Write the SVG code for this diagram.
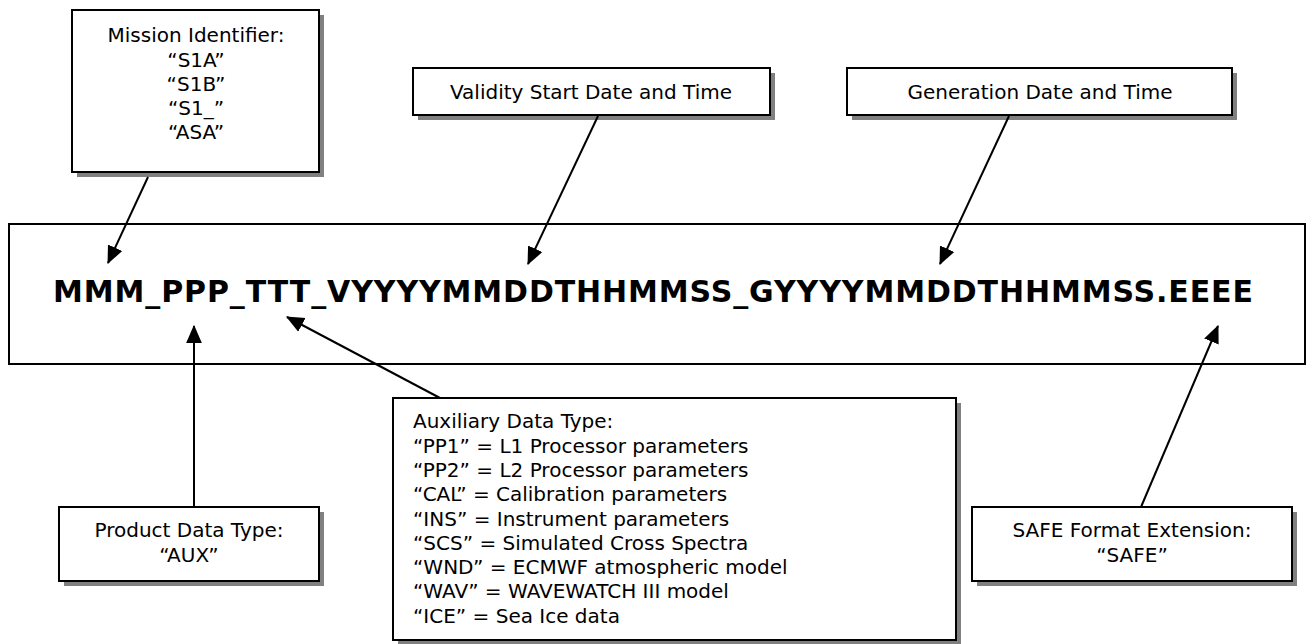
<svg xmlns="http://www.w3.org/2000/svg" width="1307" height="644" viewBox="0 0 1307 644">
<style>
  .box { fill: #ffffff; stroke: #000000; stroke-width: 2; }
  .shadow { fill: #808080; }
  .lbl { font-family: "DejaVu Sans", Verdana, sans-serif; font-size: 20px; fill: #000000; }
  .c { text-anchor: middle; }
  .title { font-family: "DejaVu Sans", Verdana, sans-serif; font-size: 30px; font-weight: bold; fill: #000000; }
  .conn { stroke: #000000; stroke-width: 2; fill: none; marker-end: url(#arrow); }
</style>
<defs>
  <marker id="arrow" markerUnits="userSpaceOnUse" markerWidth="18" markerHeight="18" viewBox="0 0 16 16" refX="15" refY="8" orient="auto">
    <path d="M0,1 L16,8 L0,15 Z" fill="#000000"/>
  </marker>
</defs>
<rect width="1307" height="644" fill="#ffffff"/>

<g id="main">
  <rect class="box" x="9" y="224" width="1296" height="140"/>
  <text class="title" x="53" y="302" textLength="1200">MMM_PPP_TTT_VYYYYMMDDTHHMMSS_GYYYYMMDDTHHMMSS.EEEE</text>
</g>

<g id="mission">
  <rect class="shadow" x="77" y="15" width="247" height="162"/>
  <rect class="box" x="72" y="10" width="247" height="162"/>
  <text class="lbl c" x="196" y="42">Mission Identifier:</text>
  <text class="lbl c" x="196" y="67">“S1A”</text>
  <text class="lbl c" x="196" y="91">“S1B”</text>
  <text class="lbl c" x="196" y="115">“S1_”</text>
  <text class="lbl c" x="196" y="139">“ASA”</text>
</g>

<g id="validity">
  <rect class="shadow" x="418" y="73" width="357" height="47"/>
  <rect class="box" x="413" y="68" width="357" height="47"/>
  <text class="lbl c" x="591" y="99">Validity Start Date and Time</text>
</g>

<g id="generation">
  <rect class="shadow" x="852" y="73" width="385" height="47"/>
  <rect class="box" x="847" y="68" width="385" height="47"/>
  <text class="lbl c" x="1040" y="99">Generation Date and Time</text>
</g>

<g id="product">
  <rect class="shadow" x="64" y="512" width="260" height="74"/>
  <rect class="box" x="59" y="507" width="260" height="74"/>
  <text class="lbl c" x="189" y="537">Product Data Type:</text>
  <text class="lbl c" x="189" y="562">“AUX”</text>
</g>

<g id="auxiliary">
  <rect class="shadow" x="398" y="403" width="563" height="245"/>
  <rect class="box" x="393" y="398" width="563" height="242"/>
  <text class="lbl" x="413" y="428">Auxiliary Data Type:</text>
  <text class="lbl" x="413" y="453">“PP1” = L1 Processor parameters</text>
  <text class="lbl" x="413" y="477">“PP2” = L2 Processor parameters</text>
  <text class="lbl" x="413" y="501">“CAL” = Calibration parameters</text>
  <text class="lbl" x="413" y="526">“INS” = Instrument parameters</text>
  <text class="lbl" x="413" y="550">“SCS” = Simulated Cross Spectra</text>
  <text class="lbl" x="413" y="574">“WND” = ECMWF atmospheric model</text>
  <text class="lbl" x="413" y="598">“WAV” = WAVEWATCH III model</text>
  <text class="lbl" x="413" y="623">“ICE” = Sea Ice data</text>
</g>

<g id="safe">
  <rect class="shadow" x="977" y="512" width="320" height="74"/>
  <rect class="box" x="972" y="507" width="320" height="74"/>
  <text class="lbl c" x="1132" y="537">SAFE Format Extension:</text>
  <text class="lbl c" x="1132" y="562">“SAFE”</text>
</g>

<g id="connectors">
  <line class="conn" x1="148" y1="177" x2="108" y2="263"/>
  <line class="conn" x1="598" y1="116" x2="528" y2="264"/>
  <line class="conn" x1="1009" y1="116" x2="940" y2="264"/>
  <line class="conn" x1="194" y1="507" x2="194" y2="326"/>
  <line class="conn" x1="440" y1="398" x2="287" y2="317"/>
  <line class="conn" x1="1141" y1="507" x2="1218" y2="326"/>
</g>
</svg>
